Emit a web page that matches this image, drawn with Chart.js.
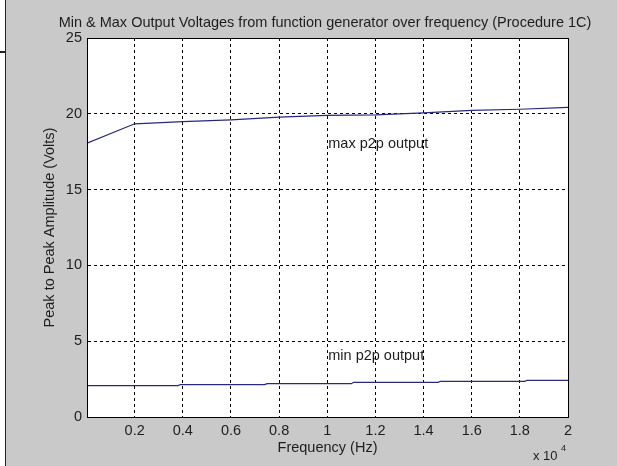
<!DOCTYPE html>
<html>
<head>
<meta charset="utf-8">
<title>Min & Max Output Voltages</title>
<script src="https://cdn.jsdelivr.net/npm/chart.js@4/dist/chart.umd.min.js"></script>
<style>
  html, body { margin: 0; padding: 0; background: #c9c9c9; }
  canvas { display: block; }
</style>
</head>
<body>
<canvas id="chart" width="617" height="466"></canvas>
<script>
// values (Hz, volts peak-to-peak)
const freqMax = [20, 2000, 4000, 6000, 8000, 10000, 12000, 14000, 16000, 18000, 20000];
const voltsMax = [18.06, 19.34, 19.49, 19.6, 19.78, 19.89, 19.93, 20.06, 20.22, 20.3, 20.43];

const freqMin = [20, 3800, 3900, 7400, 7500, 11000, 11100, 14600, 14700, 18200, 18300, 20000];
const voltsMin = [2.07, 2.07, 2.14, 2.14, 2.2, 2.2, 2.29, 2.29, 2.35, 2.35, 2.42, 2.42];

const xTicks = [2000, 4000, 6000, 8000, 10000, 12000, 14000, 16000, 18000, 20000];
const noteText = ['max p2p output', 'min p2p output'];
const noteFreq = [10000, 10000];
const noteVolts = [18, 4];
const titleText = 'Min & Max Output Voltages from function generator over frequency (Procedure 1C)';

const FONT = "'Liberation Sans', Arial, Helvetica, sans-serif";
const SIZE = 14.5;
const TEXT = '#1e1e1e';
const LINE = '#28287f';

const figure = {
  id: 'figure',
  beforeDraw(chart) {
    const { ctx, chartArea: a } = chart;
    ctx.save();
    ctx.fillStyle = '#c9c9c9';
    ctx.fillRect(0, 0, chart.width, chart.height);
    // bit of the neighbouring window on the left
    ctx.fillStyle = '#ffffff';
    ctx.fillRect(0, 0, 5, chart.height);
    ctx.fillStyle = '#222';
    ctx.fillRect(5, 0, 1, chart.height);
    ctx.fillRect(0, 51, 5, 2);
    ctx.fillStyle = '#ffffff';
    ctx.fillRect(a.left, a.top, a.right - a.left, a.bottom - a.top);
    ctx.restore();
  },
  afterDraw(chart) {
    const { ctx, chartArea: a, scales } = chart;
    ctx.save();
    ctx.strokeStyle = '#000';
    ctx.lineWidth = 1;
    ctx.strokeRect(Math.round(a.left) + 0.5, Math.round(a.top) + 0.5,
      Math.round(a.right - a.left), Math.round(a.bottom - a.top));

    ctx.fillStyle = TEXT;
    ctx.font = SIZE + 'px ' + FONT;
    ctx.textBaseline = 'middle';
    ctx.textAlign = 'center';
    ctx.fillText(titleText, 325, 23);

    ctx.textAlign = 'left';
    noteText.forEach((t, i) => {
      ctx.fillText(t, scales.x.getPixelForValue(noteFreq[i]) + 1, scales.y.getPixelForValue(noteVolts[i]));
    });

    // exponent for the x axis
    ctx.font = '13px ' + FONT;
    ctx.fillText('x 10', a.right - 35, 456);
    ctx.font = '9px ' + FONT;
    ctx.fillText('4', a.right - 7, 449);
    ctx.restore();
  },
};

new Chart(document.getElementById('chart'), {
  type: 'line',
  data: {
    datasets: [
      {
        label: 'max p2p output',
        data: freqMax.map((f, i) => ({ x: f, y: voltsMax[i] })),
        borderColor: LINE,
        borderWidth: 1.2,
        pointRadius: 0,
        tension: 0,
      },
      {
        label: 'min p2p output',
        data: freqMin.map((f, i) => ({ x: f, y: voltsMin[i] })),
        borderColor: LINE,
        borderWidth: 1.2,
        pointRadius: 0,
        tension: 0,
      },
    ],
  },
  options: {
    responsive: false,
    animation: false,
    layout: { padding: { left: 0, right: 49, top: 38, bottom: 0 } },
    plugins: {
      legend: { display: false },
      tooltip: { enabled: false },
      title: { display: false },
    },
    scales: {
      x: {
        type: 'linear',
        min: 20,
        max: 20000,
        afterBuildTicks: (s) => { s.ticks = xTicks.map((v) => ({ value: v })); },
        afterFit: (s) => { s.height = 49; },
        ticks: {
          color: TEXT,
          font: { family: FONT, size: SIZE },
          padding: 5,
          maxRotation: 0,
          callback: (v) => String(v / 10000),
        },
        grid: { color: '#000', lineWidth: 1, drawTicks: false },
        border: { color: '#000', dash: [3, 3] },
        title: {
          display: true,
          text: 'Frequency (Hz)',
          color: TEXT,
          font: { family: FONT, size: SIZE },
          padding: { top: 0, bottom: 9.3 },
        },
      },
      y: {
        min: 0,
        max: 25,
        afterFit: (s) => { s.width = 87; },
        ticks: {
          stepSize: 5,
          color: TEXT,
          font: { family: FONT, size: SIZE },
          padding: 5,
        },
        grid: { color: '#000', lineWidth: 1, drawTicks: false },
        border: { color: '#000', dash: [3, 3] },
        title: {
          display: true,
          text: 'Peak to Peak Amplitude (Volts)',
          color: TEXT,
          font: { family: FONT, size: SIZE },
          padding: { top: 41, bottom: 0 },
        },
      },
    },
  },
  plugins: [figure],
});
</script>
</body>
</html>
